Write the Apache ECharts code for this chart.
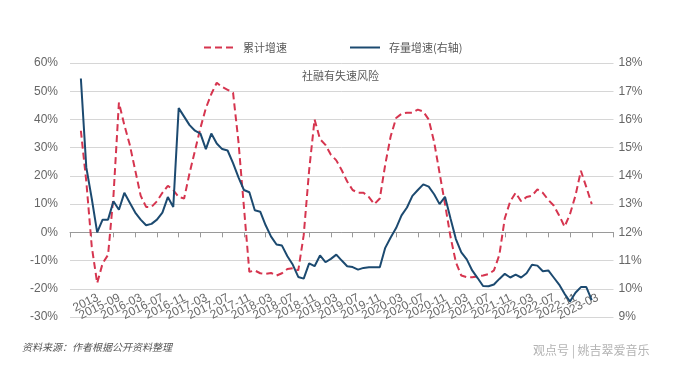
<!DOCTYPE html>
<html>
<head>
<meta charset="utf-8">
<script src="https://cdn.jsdelivr.net/npm/echarts@6/dist/echarts.min.js"></script>
<style>
html,body{margin:0;padding:0;background:#fff;}
#chart{width:678px;height:390px;}
</style>
</head>
<body>
<div id="chart"></div>
<script>
// x-axis tick labels (one every 4 slots)
const tickLabels = ['2013','2015-09','2016-03','2016-07','2016-11','2017-03','2017-07','2017-11','2018-03','2018-07','2018-11','2019-03','2019-07','2019-11','2020-03','2020-07','2020-11','2021-03','2021-07','2021-11','2022-03','2022-07','2022-11','2023-03'];
// number of empty slots before the first data point
const leadSlots = 2;
const totalSlots = 101;

// 累计增速 (left axis, %)
const cumulativeGrowth = [
  36, 18, -5, -18, -11, -8, 13, 46, 38, 31,
  22, 13, 9, 9, 11, 14, 16.5, 15, 12.5, 12,
  21, 29, 37, 44, 49, 53, 51.5, 50.5, 49.5, 32,
  9, -14, -13.5, -14.5, -14.7, -14.4, -15.3, -14.5, -13, -12.7,
  -13.5, -1, 22, 40, 33, 31, 27.5, 25.5, 22, 18,
  15, 14, 14, 12.5, 10, 12, 24, 34, 40.5, 42,
  42.4, 42.4, 43.5, 42.8, 40, 32, 21, 10, -1.5, -10.6,
  -15.3, -15.9, -15.9, -15.6, -15.3, -14.8, -13.5, -8, 5, 11,
  14, 11, 12.5, 13, 15.2, 14, 11.5, 9.5, 6, 2,
  6.5, 13, 21.8, 16, 10
];
// 存量增速 (right axis, %)
const stockGrowth = [
  17.45, 14.3, 13.2, 12.0, 12.45, 12.45, 13.1, 12.8, 13.4, 13.05,
  12.7, 12.45, 12.25, 12.3, 12.45, 12.7, 13.25, 12.9, 16.4, 16.1,
  15.8, 15.6, 15.5, 14.95, 15.5, 15.15, 14.95, 14.9, 14.45, 13.95,
  13.5, 13.42, 12.78, 12.73, 12.25, 11.85, 11.57, 11.53, 11.15, 10.85,
  10.42, 10.36, 10.9, 10.8, 11.18, 10.94, 11.06, 11.21, 11.0, 10.8,
  10.77, 10.68, 10.74, 10.76, 10.76, 10.76, 11.45, 11.82, 12.15, 12.6,
  12.88, 13.29, 13.5, 13.7, 13.62, 13.35, 13.0, 13.26, 12.5, 11.76,
  11.29, 11.04, 10.65, 10.38, 10.1, 10.09, 10.15, 10.35, 10.53, 10.4,
  10.5, 10.4, 10.55, 10.85, 10.82, 10.62, 10.65, 10.4, 10.15, 9.82,
  9.55, 9.86, 10.06, 10.06, 9.6
];

const categories = [];
for (let i = 0; i < totalSlots; i++) {
  const k = i / 4 - 1;
  categories.push((i % 4 === 0 && k >= 0 && k < tickLabels.length) ? tickLabels[k] : 's' + i);
}
const pad = n => Array.from({length: n}, () => '-');
const redData = pad(leadSlots).concat(cumulativeGrowth);
const blueData = pad(leadSlots).concat(stockGrowth);
const labelSet = new Set(tickLabels);

const RED = '#d6354f';
const BLUE = '#1c4a70';
const CJK = '"Noto Sans CJK SC", "Liberation Sans", sans-serif';
const LAT = '"Liberation Sans", Arial, sans-serif';

const chart = echarts.init(document.getElementById('chart'), null, {renderer: 'canvas'});
chart.setOption({
  animation: false,
  backgroundColor: '#fff',
  grid: [
    {left: 70, right: 64.5, top: 63, bottom: 73, containLabel: false},
    {left: 76, right: 58.5, top: 63, bottom: 73, containLabel: false}
  ],
  legend: {
    top: 37,
    left: 198,
    itemWidth: 30,
    itemHeight: 10,
    itemGap: 62,
    itemStyle: {opacity: 0},
    textStyle: {color: '#595959', fontSize: 11, fontFamily: CJK, padding: [0, 0, 0, 4]},
    data: ['累计增速', '存量增速(右轴)']
  },
  xAxis: [
    {
      type: 'category',
      gridIndex: 0,
      data: categories,
      boundaryGap: false,
      axisLine: {show: true, onZero: true, onZeroAxisIndex: 0, lineStyle: {color: '#9a9a9a', width: 1}},
      axisTick: {show: true, interval: 3, length: 5, lineStyle: {color: '#9a9a9a'}},
      axisLabel: {show: false},
      splitLine: {show: false}
    },
    {
      type: 'category',
      gridIndex: 1,
      data: categories,
      boundaryGap: false,
      position: 'bottom',
      offset: -24,
      axisLine: {show: false, onZero: false},
      axisTick: {show: false},
      splitLine: {show: false},
      axisLabel: {
        interval: 3,
        rotate: 26,
        margin: 4,
        color: '#6a6a6a',
        fontSize: 12,
        fontFamily: LAT,
        formatter: v => labelSet.has(v) ? v : ''
      }
    }
  ],
  yAxis: [
    {
      type: 'value',
      gridIndex: 0,
      min: -30, max: 60, interval: 10,
      axisLine: {show: false},
      axisTick: {show: false},
      axisLabel: {formatter: '{value}%', color: '#666', fontSize: 12, fontFamily: LAT, margin: 12},
      splitLine: {show: true, lineStyle: {color: '#d6d6d6', width: 1}}
    },
    {
      type: 'value',
      gridIndex: 0,
      position: 'right',
      min: 9, max: 18, interval: 1,
      axisLine: {show: false},
      axisTick: {show: false},
      axisLabel: {formatter: '{value}%', color: '#666', fontSize: 12, fontFamily: LAT, margin: 5},
      splitLine: {show: false}
    },
    {
      type: 'value',
      gridIndex: 1,
      show: false,
      min: 0, max: 1
    }
  ],
  series: [
    {
      name: '累计增速',
      type: 'line',
      xAxisIndex: 0,
      yAxisIndex: 0,
      data: redData,
      symbol: 'none',
      color: RED,
      lineStyle: {color: RED, width: 2, type: [7, 4]},
      z: 2
    },
    {
      name: '存量增速(右轴)',
      type: 'line',
      xAxisIndex: 0,
      yAxisIndex: 1,
      data: blueData,
      symbol: 'none',
      color: BLUE,
      lineStyle: {color: BLUE, width: 2},
      z: 3
    }
  ],
  graphic: [
    {type: 'text', left: 302, top: 70, style: {text: '社融有失速风险', fill: '#595959', fontSize: 11, fontFamily: CJK}},
    {type: 'text', left: 22, top: 342, style: {text: '资料来源：作者根据公开资料整理', fill: '#555', fontSize: 10, fontStyle: 'italic', fontFamily: CJK}},
    {type: 'text', left: 533, top: 344, style: {text: '观点号 | 姚吉翠爱音乐', fill: '#b3b3b3', fontSize: 12, fontFamily: CJK}}
  ]
});
</script>
</body>
</html>
